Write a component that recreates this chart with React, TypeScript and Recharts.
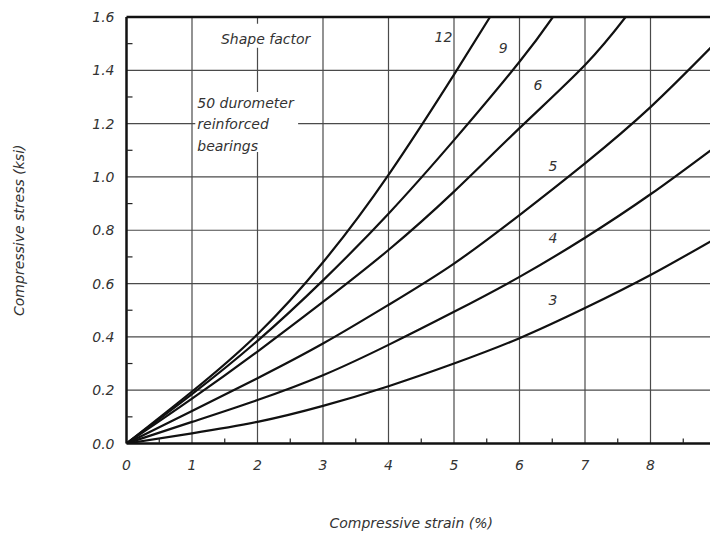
import React from "react";
import {
  LineChart,
  Line,
  XAxis,
  YAxis,
  CartesianGrid,
  ReferenceLine,
  ReferenceDot,
  ReferenceArea,
} from "recharts";

// strain (%) / stress (ksi), one pair per shape factor
const strain12 = [0, 1, 2, 3, 4, 5, 5.55];
const stress12 = [0, 0.195, 0.41, 0.68, 1.008, 1.384, 1.6];
const strain9 = [0, 1, 2, 3, 4, 5, 6, 6.51];
const stress9 = [0, 0.185, 0.385, 0.612, 0.862, 1.138, 1.432, 1.6];
const strain6 = [0, 1, 2, 3, 4, 5, 6, 7, 7.62];
const stress6 = [0, 0.168, 0.345, 0.531, 0.726, 0.945, 1.183, 1.42, 1.6];
const strain5 = [0, 1, 2, 3, 4, 5, 6, 7, 8, 9];
const stress5 = [0, 0.122, 0.245, 0.375, 0.52, 0.675, 0.857, 1.051, 1.262, 1.505];
const strain4 = [0, 1, 2, 3, 4, 5, 6, 7, 8, 9];
const stress4 = [0, 0.081, 0.163, 0.256, 0.37, 0.494, 0.625, 0.772, 0.935, 1.115];
const strain3 = [0, 1, 2, 3, 4, 5, 6, 7, 8, 9];
const stress3 = [0, 0.038, 0.081, 0.141, 0.215, 0.3, 0.395, 0.508, 0.632, 0.77];

// curve labels: text, strain, stress
const curveLabels = ["12", "9", "6", "5", "4", "3"];
const labelStrain = [4.84, 5.75, 6.28, 6.51, 6.51, 6.51];
const labelStress = [1.525, 1.485, 1.345, 1.04, 0.77, 0.54];

const xTicks = [0, 0.5, 1, 1.5, 2, 2.5, 3, 3.5, 4, 4.5, 5, 5.5, 6, 6.5, 7, 7.5, 8, 8.5, 9];
const yTicks = [0, 0.1, 0.2, 0.3, 0.4, 0.5, 0.6, 0.7, 0.8, 0.9, 1.0, 1.1, 1.2, 1.3, 1.4, 1.5, 1.6];
const xGrid = [1, 2, 3, 4, 5, 6, 7, 8, 9];
const yGrid = [0.2, 0.4, 0.6, 0.8, 1.0, 1.2, 1.4];

const noteLines = ["50 durometer", "reinforced", "bearings"];

const toPoints = (xs: number[], ys: number[]) => xs.map((s, i) => ({ s, v: ys[i] }));

const curves = [
  toPoints(strain12, stress12),
  toPoints(strain9, stress9),
  toPoints(strain6, stress6),
  toPoints(strain5, stress5),
  toPoints(strain4, stress4),
  toPoints(strain3, stress3),
];

const font = {
  fontFamily: "DejaVu Sans",
  fontStyle: "italic" as const,
  fontSize: 14,
  fill: "#333",
};

const XTick = (props: any) => {
  const { x, y, payload } = props;
  const v = payload.value;
  if (!Number.isInteger(v)) {
    return <line x1={x} y1={y} x2={x} y2={y - 5} stroke="#222" strokeWidth={1.2} />;
  }
  return (
    <text x={x} y={y + 26} textAnchor="middle" {...font}>
      {v}
    </text>
  );
};

const YTick = (props: any) => {
  const { x, y, payload } = props;
  const v = payload.value;
  if (Math.round(v * 10) % 2 === 1) {
    return <line x1={x} y1={y} x2={x + 6} y2={y} stroke="#222" strokeWidth={1.2} />;
  }
  return (
    <text x={x - 12} y={y + 5} textAnchor="end" {...font}>
      {v.toFixed(1)}
    </text>
  );
};

const App = () => {
  return (
    <div
      style={{
        position: "absolute",
        left: 0,
        top: 0,
        width: 710,
        height: 534,
        overflow: "hidden",
        background: "#fff",
      }}
    >
      <LineChart width={730} height={534} margin={{ top: 17, right: 14, bottom: 0, left: 0 }}>
        <CartesianGrid
          verticalValues={xGrid}
          horizontalValues={yGrid}
          stroke="#4a4a4a"
          strokeWidth={1.2}
        />
        {/* white boxes behind the notes */}
        <ReferenceArea
          x1={1.35}
          x2={2.8}
          y1={1.485}
          y2={1.575}
          fill="#fff"
          fillOpacity={1}
          stroke="none"
          label={{
            content: (p: any) => (
              <text x={p.viewBox.x + 6} y={p.viewBox.y + 20} {...font}>
                Shape factor
              </text>
            ),
          }}
        />
        <ReferenceArea
          x1={1.05}
          x2={2.62}
          y1={1.094}
          y2={1.319}
          fill="#fff"
          fillOpacity={1}
          stroke="none"
          label={{
            content: (p: any) => (
              <text {...font}>
                {noteLines.map((t, i) => (
                  <tspan key={t} x={p.viewBox.x + 2} y={p.viewBox.y + 16 + i * 21.5}>
                    {t}
                  </tspan>
                ))}
              </text>
            ),
          }}
        />
        <XAxis
          type="number"
          dataKey="s"
          domain={[0, 9]}
          ticks={xTicks}
          interval={0}
          tickSize={0}
          tickMargin={0}
          tick={<XTick />}
          height={90.5}
          axisLine={{ stroke: "#111", strokeWidth: 2.5 }}
          tickLine={false}
          allowDataOverflow
          label={{
            value: "Compressive strain (%)",
            position: "insideBottom",
            offset: 6,
            dx: -10,
            ...font,
          }}
        />
        <YAxis
          type="number"
          domain={[0, 1.6]}
          ticks={yTicks}
          interval={0}
          tickSize={0}
          tickMargin={0}
          tick={<YTick />}
          width={126.5}
          axisLine={{ stroke: "#111", strokeWidth: 2.5 }}
          tickLine={false}
          allowDataOverflow
          label={{
            value: "Compressive stress (ksi)",
            angle: -90,
            position: "insideLeft",
            offset: 19,
            style: { textAnchor: "middle" },
            ...font,
          }}
        />
        <ReferenceLine y={1.6} stroke="#111" strokeWidth={2.5} />
        {curves.map((data, i) => (
          <Line
            key={curveLabels[i]}
            data={data}
            dataKey="v"
            type="natural"
            stroke="#111"
            strokeWidth={2.2}
            dot={false}
            activeDot={false}
            isAnimationActive={false}
          />
        ))}
        {curveLabels.map((t, i) => (
          <ReferenceDot
            key={t}
            x={labelStrain[i]}
            y={labelStress[i]}
            r={0}
            stroke="none"
            fill="none"
            label={{
              content: (p: any) => (
                <text
                  x={p.viewBox.x}
                  y={p.viewBox.y + 5}
                  textAnchor="middle"
                  {...font}
                >
                  {t}
                </text>
              ),
            }}
          />
        ))}
      </LineChart>
    </div>
  );
};

export default App;
